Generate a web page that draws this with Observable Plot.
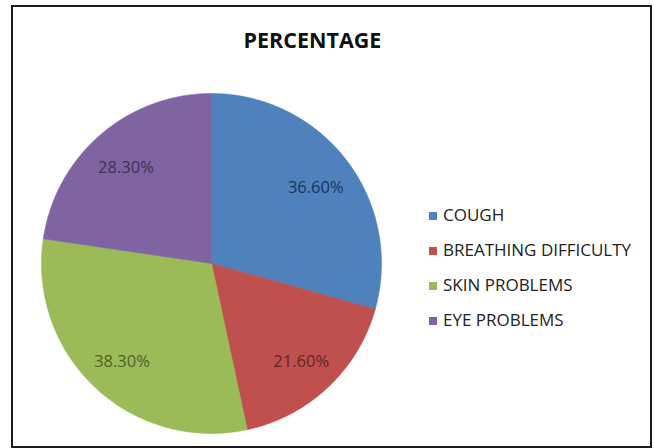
<!DOCTYPE html>
<html>
<head>
<meta charset="utf-8">
<script src="https://cdn.jsdelivr.net/npm/d3@7"></script>
<script src="https://cdn.jsdelivr.net/npm/@observablehq/plot@0.6"></script>
<style>
  html, body { margin: 0; padding: 0; background: #fff; }
  #page { position: relative; width: 654px; height: 448px; overflow: hidden; background: #fff; font-family: "Open Sans", sans-serif; }
  #frame { position: absolute; left: 11px; top: 5px; width: 641px; height: 443px; border: 2.5px solid #1c1c1c; box-sizing: border-box; }
  #title { position: absolute; left: 0; top: 29px; width: 625px; text-align: center; font-weight: 700; font-size: 21.5px; line-height: 21.5px; color: #111; }
  #pie { position: absolute; left: 34px; top: 86px; }
  #legend { position: absolute; left: 429px; top: 205.6px; }
  .item { position: absolute; left: 0; white-space: nowrap; font-size: 17px; line-height: 17px; color: #222; }
  .sw { position: absolute; left: 0; top: 6px; width: 8px; height: 8px; }
  .lab { position: absolute; left: 14px; top: 0; }
</style>
</head>
<body>
<div id="page">
  <div id="frame"></div>
  <div id="title"></div>
  <div id="pie"></div>
  <div id="legend"></div>
</div>
<script>
const title = "PERCENTAGE";
const categories = ["COUGH", "BREATHING DIFFICULTY", "SKIN PROBLEMS", "EYE PROBLEMS"];
const values = [36.6, 21.6, 38.3, 28.3];
const labels = ["36.60%", "21.60%", "38.30%", "28.30%"];
const colors = ["#4F81BD", "#C0504D", "#9BBB59", "#8064A2"];
const labelColors = ["#17365D", "#632523", "#4F6228", "#3F3151"];

const rows = categories.map((name, i) => ({name, value: values[i], label: labels[i], labelColor: labelColors[i]}));
const arcs = d3.pie().sort(null).value(d => d.value).startAngle(0).endAngle(2 * Math.PI)(rows);

// slice outlines in unit-circle coordinates (angle clockwise from 12 o'clock)
const poly = [];
for (const a of arcs) {
  const name = a.data.name;
  poly.push({name, x: 0, y: 0});
  const step = Math.PI / 720;
  for (let t = a.startAngle; t < a.endAngle; t += step) poly.push({name, x: Math.sin(t), y: Math.cos(t)});
  poly.push({name, x: Math.sin(a.endAngle), y: Math.cos(a.endAngle)});
  poly.push({name, x: 0, y: 0});
}
const k = 0.77;
const labelData = arcs.map(a => {
  const m = (a.startAngle + a.endAngle) / 2;
  return {name: a.data.name, text: a.data.label, color: a.data.labelColor, x: k * Math.sin(m), y: k * Math.cos(m)};
});

const plot = Plot.plot({
  width: 354,
  height: 354,
  margin: 7,
  x: {domain: [-1, 1], axis: null},
  y: {domain: [-1, 1], axis: null},
  color: {domain: categories, range: colors},
  style: {background: "transparent", overflow: "visible"},
  marks: [
    Plot.line(poly, {x: "x", y: "y", z: "name", fill: "name", stroke: "name", strokeWidth: 0.6, curve: "linear"}),
    ...labelData.map(d => Plot.text([d], {x: "x", y: "y", dy: 3, text: "text", fill: d.color, fontSize: 16.5, fontFamily: "Open Sans"}))
  ]
});
document.getElementById("pie").appendChild(plot);
document.getElementById("title").textContent = title;

const color = plot.scale("color");
const legend = d3.select("#legend");
categories.forEach((name, i) => {
  const it = legend.append("div").attr("class", "item").style("top", (i * 35.3) + "px");
  it.append("div").attr("class", "sw").style("background", color.apply(name));
  it.append("div").attr("class", "lab").text(name);
});
</script>
</body>
</html>
